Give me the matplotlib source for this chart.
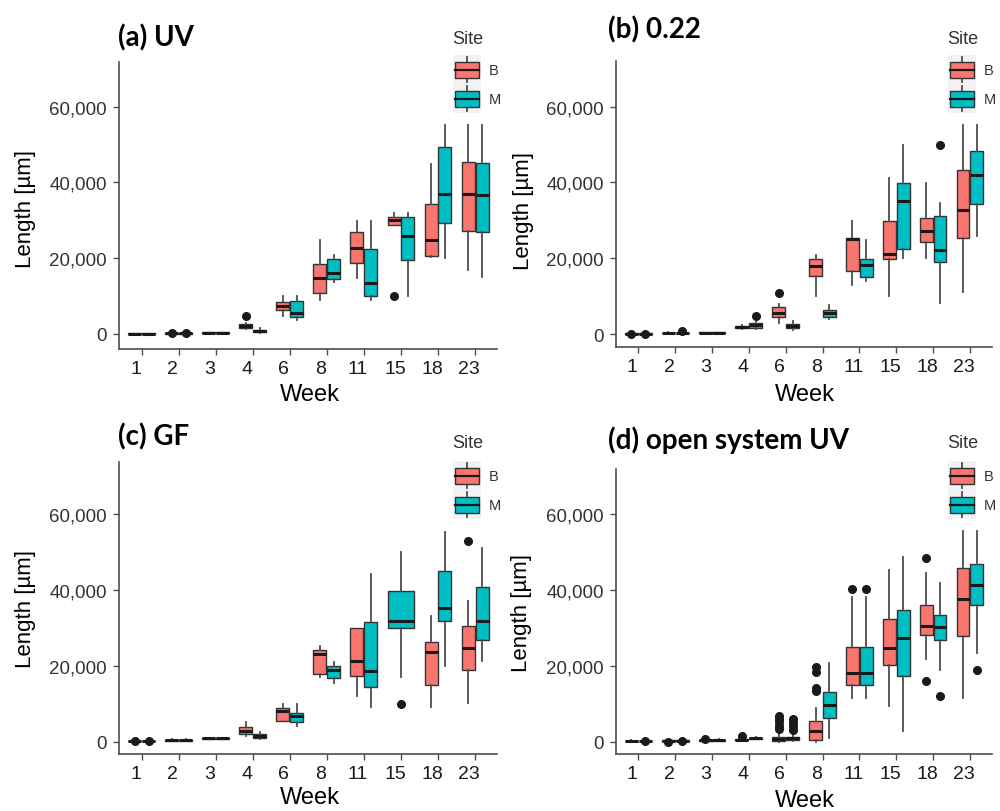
import matplotlib
matplotlib.use("Agg")
import matplotlib.pyplot as plt
from matplotlib.patches import Rectangle
from matplotlib.lines import Line2D
from matplotlib.ticker import FuncFormatter
from matplotlib.transforms import ScaledTranslation

# ---- data ---------------------------------------------------------------
weeks = ['1', '2', '3', '4', '6', '8', '11', '15', '18', '23']
sites = ['B', 'M']
site_colors = {'B': '#F8766D', 'M': '#00BFC4'}

# each entry: (whisker low, Q1, median, Q3, whisker high), length in µm
uv_B = [(0, 50, 100, 150, 200), (50, 100, 150, 200, 300), (200, 300, 350, 400, 500),
        (1300, 1500, 2100, 2600, 3000), (4800, 6400, 7300, 8500, 9900),
        (9100, 10700, 14800, 18500, 24800), (14800, 18700, 22800, 26800, 29900),
        (28800, 28800, 30200, 30800, 31900), (20200, 20500, 24800, 34300, 44900),
        (17000, 27100, 36900, 45500, 55100)]
uv_M = [(0, 50, 100, 150, 200), (50, 100, 150, 200, 300), (200, 300, 350, 400, 500),
        (300, 400, 800, 1100, 1500), (3800, 4600, 5500, 8800, 9900),
        (13800, 14500, 16000, 19800, 20900), (9100, 10100, 13500, 22300, 29900),
        (9900, 19500, 25900, 30800, 31900), (20000, 29300, 36900, 49300, 55100),
        (15000, 26800, 36700, 45000, 55100)]
uv_B_out = {'2': [350], '4': [4700], '15': [9900]}
uv_M_out = {'2': [350]}

f022_B = [(0, 50, 100, 150, 200), (100, 200, 300, 400, 500), (300, 350, 400, 450, 500),
          (1200, 1500, 1900, 2200, 2500), (2800, 4600, 5500, 7000, 7900),
          (10100, 15400, 18000, 19800, 20900), (12800, 16700, 25000, 25300, 29900),
          (10100, 19800, 21100, 29700, 41100), (20100, 24400, 27300, 30600, 39800),
          (11200, 25300, 32800, 43300, 55100)]
f022_M = [(0, 50, 100, 150, 200), (100, 200, 300, 400, 500), (300, 350, 400, 450, 500),
          (1200, 1500, 2300, 2900, 3300), (1100, 1500, 2000, 2600, 3500),
          (4000, 4600, 5500, 6400, 7700), (14100, 15000, 18300, 19800, 24800),
          (20100, 22300, 35000, 39800, 49900), (8100, 18900, 22200, 31000, 34600),
          (25900, 34300, 42000, 48200, 55100)]
f022_B_out = {'1': [100], '6': [10800]}
f022_M_out = {'1': [100], '2': [900], '4': [4700], '18': [49900]}

gf_B = [(0, 100, 200, 300, 400), (200, 300, 400, 500, 600), (700, 800, 900, 1000, 1100),
        (1500, 2000, 2800, 4000, 5100), (5400, 5400, 8000, 8800, 9900),
        (17000, 17800, 23100, 24200, 25100), (12100, 17400, 21200, 29900, 29900),
        None, (9100, 15000, 23600, 26200, 33200),
        (10100, 18900, 24600, 30600, 37200)]
gf_M = [(0, 100, 200, 300, 400), (200, 300, 400, 500, 600), (700, 800, 900, 1000, 1100),
        (700, 900, 1600, 2000, 2500), (4200, 5100, 6700, 7600, 9900),
        (15400, 16800, 19000, 19900, 20900), (9100, 14300, 18700, 31600, 44200),
        (17000, 29900, 31700, 39800, 49900), (20000, 31900, 35200, 45100, 55200),
        (21200, 26800, 31900, 40700, 51000)]
gf_B_out = {'1': [200], '23': [53000]}
gf_M_out = {'1': [200], '15': [9900]}

open_B = [(0, 100, 200, 300, 400), (100, 200, 300, 400, 500), (200, 300, 400, 500, 700),
          (300, 400, 500, 700, 900), (0, 300, 700, 1300, 2000),
          (0, 400, 2900, 5400, 9000), (11500, 15000, 18000, 25000, 38000),
          (9500, 20200, 24700, 32300, 45300), (21800, 28100, 30600, 36100, 44500),
          (11500, 27800, 37600, 45800, 55600)]
open_M = [(0, 100, 200, 300, 400), (100, 200, 300, 400, 500), (200, 300, 400, 500, 600),
          (600, 800, 900, 1000, 1200), (300, 500, 1100, 1300, 2400),
          (900, 6200, 9800, 13000, 20700), (11500, 15000, 18000, 25000, 38000),
          (2900, 17400, 27300, 34700, 48600), (19000, 26800, 30100, 33400, 41700),
          (23300, 35900, 41400, 46800, 55600)]
open_B_out = {'2': [50], '3': [800], '4': [1600], '6': [3300, 4200, 5100, 6000, 6900],
              '8': [13400, 14100, 18300, 19600], '11': [40200], '18': [16100, 48300]}
open_M_out = {'1': [300], '2': [300], '6': [3200, 4200, 5100, 6000],
              '11': [40200], '18': [12100], '23': [18900]}

yticks = [0, 20000, 40000, 60000]

# ---- layout (pixels of the 1000x812 picture) -----------------------------
W, H = 1000, 812
panels = [
    # title, B, M, B outliers, M outliers, axes box (l, r, top, bottom), ylim,
    # title pos, ylabel pos, xlabel pos, legend (x, title y, keys top y)
    ('(a) UV', uv_B, uv_M, uv_B_out, uv_M_out, (119.4, 497.3, 63, 350), (-3960, 71780),
     (118, 38), (26, 209), (310, 395), (453, 39, 56)),
    ('(b) 0.22', f022_B, f022_M, f022_B_out, f022_M_out, (616.2, 992, 62, 348.3), (-3500, 72000),
     (608, 30), (524, 211), (805, 395), (948, 39, 56)),
    ('(c) GF', gf_B, gf_M, gf_B_out, gf_M_out, (119.4, 497.3, 463, 755), (-3240, 73700),
     (118, 437), (26, 609), (310, 798), (453, 444, 462)),
    ('(d) open system UV', open_B, open_M, open_B_out, open_M_out, (616.2, 992, 470, 755), (-3240, 71860),
     (608, 440), (522, 613), (805, 801), (948, 444, 462)),
]


def fx(x):
    return x / W


def fy(y):
    return 1 - y / H


def stats_for(row, outs, week):
    lo, q1, med, q3, hi = row
    return {'whislo': lo, 'q1': q1, 'med': med, 'q3': q3, 'whishi': hi,
            'fliers': outs.get(week, [])}


def draw_boxes(ax, data, outs, positions, widths, color):
    ax.bxp([stats_for(r, outs, w) for r, w in zip(data, weeks) if r is not None],
           positions=positions, widths=widths, showcaps=False, patch_artist=True,
           boxprops=dict(facecolor=color, edgecolor='#333333', linewidth=1.0),
           medianprops=dict(color='#1a1a1a', linewidth=2.2),
           whiskerprops=dict(color='#4d4d4d', linewidth=1.3),
           flierprops=dict(marker='o', markerfacecolor='#1a1a1a', markeredgecolor='#1a1a1a',
                           markersize=5.5, linestyle='none'))


def draw_legend(fig, x0, title_y, top):
    fig.text(fx(x0 - 1), fy(title_y), 'Site', fontsize=13, color='#333333',
             ha='left', va='center', family='Liberation Sans')
    fig.patches.append(Rectangle((fx(x0), fy(top + 58)), 28 / W, 58 / H,
                                 transform=fig.transFigure, facecolor='#F2F2F2',
                                 edgecolor='none', zorder=1))
    for i, s in enumerate(sites):
        ky = top + i * 29
        cx = x0 + 14
        fig.lines.append(Line2D([fx(cx), fx(cx)], [fy(ky + 2), fy(ky + 27)],
                                transform=fig.transFigure, color='#4d4d4d', lw=1.3, zorder=2))
        fig.patches.append(Rectangle((fx(x0 + 2), fy(ky + 23)), 24 / W, 16 / H,
                                     transform=fig.transFigure, facecolor=site_colors[s],
                                     edgecolor='#333333', lw=1.0, zorder=3))
        fig.lines.append(Line2D([fx(x0 + 2), fx(x0 + 26)], [fy(ky + 15), fy(ky + 15)],
                                transform=fig.transFigure, color='#1a1a1a', lw=1.6, zorder=4))
        fig.text(fx(x0 + 36), fy(ky + 15), s, fontsize=10.5, color='#333333',
                 ha='left', va='center', family='Liberation Sans')


fig = plt.figure(figsize=(W / 100, H / 100), dpi=100)
fig.patch.set_facecolor('white')

for (title, dB, dM, oB, oM, box, ylim, tpos, ylpos, xlpos, leg) in panels:
    l, r, t, b = box
    ax = fig.add_axes([fx(l), fy(b), (r - l) / W, (b - t) / H])
    ax.set_facecolor('white')

    posB, posM, wB, wM = [], [], [], []
    for i in range(len(weeks)):
        if dB[i] is None:
            posM.append(i + 1)
            wM.append(0.7)
        else:
            posB.append(i + 1 - 0.1875)
            posM.append(i + 1 + 0.1875)
            wB.append(0.35)
            wM.append(0.35)
    draw_boxes(ax, dB, oB, posB, wB, site_colors['B'])
    draw_boxes(ax, dM, oM, posM, wM, site_colors['M'])

    ax.set_xlim(0.4, len(weeks) + 0.6)
    ax.set_ylim(*ylim)
    ax.set_xticks(range(1, len(weeks) + 1))
    ax.set_xticklabels(weeks)
    ax.set_yticks(yticks)
    ax.yaxis.set_major_formatter(FuncFormatter(lambda v, p: f'{int(v):,}'))
    for s in ['top', 'right']:
        ax.spines[s].set_visible(False)
    for s in ['left', 'bottom']:
        ax.spines[s].set_color('#4d4d4d')
        ax.spines[s].set_linewidth(1.2)
    ax.tick_params(axis='both', colors='#4d4d4d', length=4, width=1.0)
    ax.tick_params(axis='y', labelsize=13.5, labelcolor='#333333', pad=5)
    ax.tick_params(axis='x', labelsize=14, labelcolor='#1a1a1a', pad=4)
    for lab in ax.get_xticklabels():
        lab.set_transform(lab.get_transform() + ScaledTranslation(-6 / 100, 0, fig.dpi_scale_trans))
    for lab in ax.get_xticklabels() + ax.get_yticklabels():
        lab.set_family('Liberation Sans')

    fig.text(fx(tpos[0]), fy(tpos[1]), title, fontsize=20, fontweight='bold',
             family=['Lato', 'DejaVu Sans'], ha='left', va='center')
    fig.text(fx(ylpos[0]), fy(ylpos[1]), 'Length [µm]', fontsize=16, rotation=90,
             family='Liberation Sans', ha='center', va='center')
    fig.text(fx(xlpos[0]), fy(xlpos[1]), 'Week', fontsize=17,
             family='Liberation Sans', ha='center', va='center')
    draw_legend(fig, leg[0], leg[1], leg[2])

fig.savefig('out.png', dpi=100, facecolor='white')
